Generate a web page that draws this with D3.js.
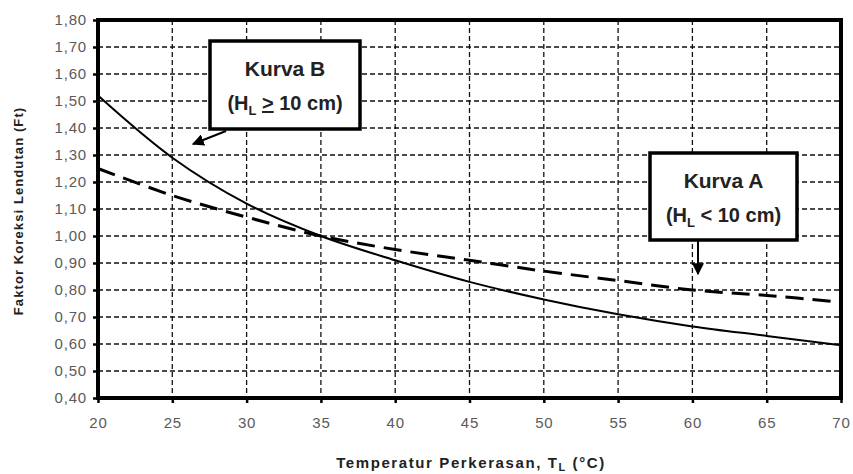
<!DOCTYPE html>
<html>
<head>
<meta charset="utf-8">
<script src="https://cdn.jsdelivr.net/npm/d3@7"></script>
<style>
    body { margin: 0; background: #fff; }
    svg { display: block; font-family: Arial, 'Liberation Sans', sans-serif; }
</style>
</head>
<body>
<svg class="ft-chart" width="853" height="474"></svg>
<script>
    'use strict'

    // suhu perkerasan (°C)
    const temps = [20, 25, 30, 35, 40, 45, 50, 55, 60, 65, 70];
    // Kurva B (HL >= 10 cm), garis penuh
    const kurvaB = [1.52, 1.29, 1.12, 1.00, 0.91, 0.83, 0.765, 0.71, 0.665, 0.63, 0.595];
    // Kurva A (HL < 10 cm), garis putus-putus
    const kurvaA = [1.25, 1.15, 1.07, 1.00, 0.95, 0.91, 0.87, 0.835, 0.80, 0.78, 0.755];

    const xTicks = [20, 25, 30, 35, 40, 45, 50, 55, 60, 65, 70];
    const yTicks = [0.4, 0.5, 0.6, 0.7, 0.8, 0.9, 1.0, 1.1, 1.2, 1.3, 1.4, 1.5, 1.6, 1.7, 1.8];

    const svg = d3.select('svg.ft-chart'),
        margin = {
            top: 20,
            right: 12,
            bottom: 76,
            left: 98
        },
        width = +svg.attr('width') - margin.left - margin.right,
        height = +svg.attr('height') - margin.top - margin.bottom;

    const x = d3.scaleLinear().domain([20, 70]).range([0, width]);
    const y = d3.scaleLinear().domain([0.4, 1.8]).range([height, 0]);

    const fmt = (d) => d3.format('.2f')(d).replace('.', ',');

    const g = svg.append('g')
        .attr('transform', 'translate(' + margin.left + ',' + margin.top + ')');

    // grid
    g.append('g')
        .selectAll('line')
        .data(yTicks.slice(1, -1))
        .enter().append('line')
        .attr('x1', 0)
        .attr('x2', width)
        .attr('y1', (d) => y(d))
        .attr('y2', (d) => y(d))
        .attr('stroke', '#111')
        .attr('stroke-width', 1.3)
        .attr('stroke-dasharray', '5,3');

    g.append('g')
        .selectAll('line')
        .data(xTicks.slice(1, -1))
        .enter().append('line')
        .attr('x1', (d) => x(d))
        .attr('x2', (d) => x(d))
        .attr('y1', 0)
        .attr('y2', height)
        .attr('stroke', '#111')
        .attr('stroke-width', 1.3)
        .attr('stroke-dasharray', '5,3');

    // axes
    const yAxis = g.append('g')
        .call(d3.axisLeft(y).tickValues(yTicks).tickFormat(fmt).tickSize(5).tickPadding(6));
    const xAxis = g.append('g')
        .attr('transform', 'translate(0,' + height + ')')
        .call(d3.axisBottom(x).tickValues(xTicks).tickSize(5).tickPadding(14));

    [yAxis, xAxis].forEach((ax) => {
        ax.select('.domain').remove();
        ax.selectAll('.tick line').attr('stroke', '#000').attr('stroke-width', 2.5);
        ax.selectAll('.tick text')
            .attr('fill', '#5a5a5a')
            .style('font-size', '15px')
            .style('letter-spacing', '0.8px')
            .style('font-family', 'Arial, "Liberation Sans", sans-serif');
    });

    // frame
    g.append('rect')
        .attr('x', 0)
        .attr('y', 0)
        .attr('width', width)
        .attr('height', height)
        .attr('fill', 'none')
        .attr('stroke', '#000')
        .attr('stroke-width', 4);

    // curves
    const line = d3.line()
        .x((d, i) => x(temps[i]))
        .y((d) => y(d))
        .curve(d3.curveCatmullRom.alpha(0.5));

    g.append('path')
        .datum(kurvaB)
        .attr('d', line)
        .attr('fill', 'none')
        .attr('stroke', '#000')
        .attr('stroke-width', 2);

    g.append('path')
        .datum(kurvaA)
        .attr('d', line)
        .attr('fill', 'none')
        .attr('stroke', '#000')
        .attr('stroke-width', 3)
        .attr('stroke-dasharray', '18,9');

    // arrow marker
    svg.append('defs').append('marker')
        .attr('id', 'arrow')
        .attr('viewBox', '0 0 10 10')
        .attr('refX', 9)
        .attr('refY', 5)
        .attr('markerWidth', 6)
        .attr('markerHeight', 6)
        .attr('orient', 'auto')
        .append('path')
        .attr('d', 'M0,0L10,5L0,10z')
        .attr('fill', '#000');

    // callout boxes (pixel position, not data)
    function callout(bx, by, bw, bh, title, arrow) {
        const c = svg.append('g');
        c.append('rect')
            .attr('x', bx)
            .attr('y', by)
            .attr('width', bw)
            .attr('height', bh)
            .attr('fill', '#fff')
            .attr('stroke', '#000')
            .attr('stroke-width', 3.5);
        c.append('text')
            .attr('x', bx + bw / 2)
            .attr('y', by + 35)
            .attr('text-anchor', 'middle')
            .style('font-size', '21px')
            .style('font-weight', 'bold')
            .attr('fill', '#222')
            .text(title[0]);
        const t = c.append('text')
            .attr('x', bx + bw / 2)
            .attr('y', by + 69)
            .attr('text-anchor', 'middle')
            .style('font-size', '20px')
            .style('font-weight', 'bold')
            .attr('fill', '#222');
        t.append('tspan').text('(H');
        t.append('tspan').attr('dy', 5).style('font-size', '13px').text('L');
        t.append('tspan').attr('dy', -5).text(' ');
        t.append('tspan').style('text-decoration', title[1] === '>' ? 'underline' : 'none').text(title[1]);
        t.append('tspan').text(' 10 cm)');
        c.append('line')
            .attr('x1', arrow[0])
            .attr('y1', arrow[1])
            .attr('x2', arrow[2])
            .attr('y2', arrow[3])
            .attr('stroke', '#000')
            .attr('stroke-width', 2)
            .attr('marker-end', 'url(#arrow)');
    }

    callout(210, 41, 150, 88, ['Kurva B', '>'], [226, 131, 193, 144]);
    callout(650, 153, 147, 87, ['Kurva A', '<'], [698, 241, 698, 274]);

    // axis titles
    svg.append('text')
        .attr('x', 471)
        .attr('y', 468)
        .attr('text-anchor', 'middle')
        .style('font-size', '15px')
        .style('font-weight', 'bold')
        .style('letter-spacing', '1.6px')
        .attr('fill', '#222')
        .call((t) => {
            t.append('tspan').text('Temperatur Perkerasan, T');
            t.append('tspan').attr('dy', 3).style('font-size', '11px').text('L');
            t.append('tspan').attr('dy', -3).text(' (°C)');
        });

    svg.append('text')
        .attr('text-anchor', 'middle')
        .attr('transform', 'translate(23,' + 211 + ')rotate(-90)')
        .style('font-size', '13px')
        .style('font-weight', 'bold')
        .style('letter-spacing', '1.1px')
        .attr('fill', '#222')
        .text('Faktor Koreksi Lendutan (Ft)');
</script>
</body>
</html>
